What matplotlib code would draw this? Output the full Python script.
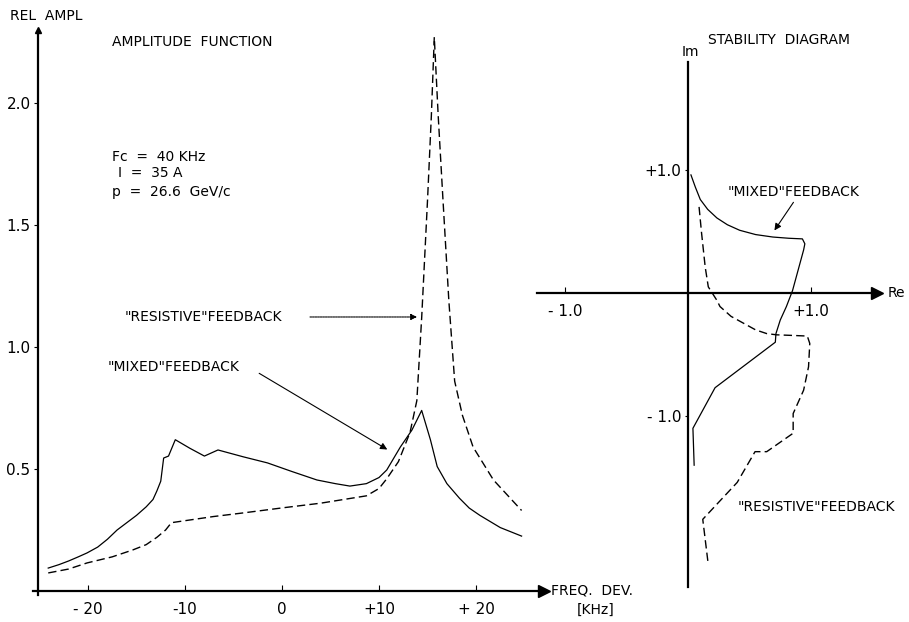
import matplotlib.pyplot as plt

# amplitude function, frequency deviation in kHz
f_mixed = [-24.1, -23.0, -22.0, -21.0, -20.1, -19.0, -18.0, -17.0, -16.0, -15.0, -14.0, -13.3,
           -12.9, -12.5, -12.2, -11.7, -11.0, -9.5, -8.0, -6.6, -4.0, -1.5, 1.0, 3.6, 5.5, 7.0,
           8.7, 10.0, 10.8, 12.2, 13.4, 14.4, 15.3, 16.0, 17.0, 18.3, 19.3, 20.4, 22.5, 24.7]
a_mixed = [0.094, 0.108, 0.123, 0.14, 0.156, 0.18, 0.212, 0.25, 0.28, 0.31, 0.345, 0.375,
           0.41, 0.45, 0.545, 0.553, 0.62, 0.585, 0.553, 0.578, 0.55, 0.525, 0.49, 0.455, 0.44,
           0.43, 0.44, 0.465, 0.496, 0.59, 0.66, 0.74, 0.62, 0.51, 0.44, 0.38, 0.34, 0.31, 0.26,
           0.225]

f_resist = [-24.1, -22.0, -20.1, -17.5, -15.4, -14.0, -12.9, -12.0, -11.4, -7.1, -4.0, 0.1,
            4.0, 8.7, 10.0, 10.8, 12.0, 13.2, 13.9, 14.4, 15.0, 15.4, 15.7, 16.1, 16.6, 17.2,
            17.8, 18.6, 19.7, 21.8, 24.7]
a_resist = [0.074, 0.09, 0.115, 0.14, 0.168, 0.19, 0.22, 0.25, 0.28, 0.305, 0.32, 0.341,
            0.36, 0.39, 0.42, 0.46, 0.53, 0.65, 0.78, 1.12, 1.60, 1.95, 2.27, 1.95, 1.60, 1.19,
            0.86, 0.72, 0.59, 0.455, 0.33]

# stability diagram (Re, Im)
re_mixed = [0.024, 0.06, 0.10, 0.16, 0.235, 0.32, 0.42, 0.55, 0.69, 0.82, 0.93, 0.95, 0.94,
            0.91, 0.85, 0.80, 0.75, 0.715, 0.71, 0.22, 0.04, 0.05]
im_mixed = [0.96, 0.86, 0.76, 0.68, 0.61, 0.555, 0.51, 0.475, 0.455, 0.445, 0.44, 0.40, 0.35,
            0.24, 0.02, -0.11, -0.22, -0.33, -0.40, -0.77, -1.10, -1.40]

re_resist = [0.09, 0.11, 0.14, 0.165, 0.235, 0.26, 0.35, 0.45, 0.55, 0.64, 0.72, 0.85, 0.97,
             0.99, 0.98, 0.94, 0.855, 0.855, 0.64, 0.545, 0.40, 0.12, 0.165]
im_resist = [0.70, 0.49, 0.21, 0.05, -0.06, -0.11, -0.19, -0.245, -0.30, -0.33, -0.34, -0.345,
             -0.35, -0.41, -0.60, -0.79, -0.98, -1.14, -1.29, -1.29, -1.54, -1.84, -2.21]

amp_ticks = [0.5, 1.0, 1.5, 2.0]
amp_labels = ['0.5', '1.0', '1.5', '2.0']
freq_ticks = [-20, -10, 0, 10, 20]
freq_labels = ['- 20', '-10', '0', '+10', '+ 20']

plt.rcParams['font.family'] = 'DejaVu Sans'
fig = plt.figure(figsize=(9.09, 6.22), dpi=100)

DASH = (0, (6, 3))

# ---- left panel: amplitude function
ax1 = fig.add_axes([0, 0, 660 / 909, 1])
ax1.set_facecolor('none')
ax1.set_xlim((0 - 282) / 9.7, (660 - 282) / 9.7)
ax1.set_ylim((591 - 622) / 244, 591 / 244)
for s in ['top', 'right']:
    ax1.spines[s].set_visible(False)
ax1.spines['left'].set_position(('data', -25.2))
ax1.spines['bottom'].set_position(('data', 0))
ax1.spines['left'].set_bounds(-0.015, 2.28)
ax1.spines['bottom'].set_bounds(-25.7, 27.0)
ax1.spines['left'].set_linewidth(1.6)
ax1.spines['bottom'].set_linewidth(1.6)
ax1.set_xticks(freq_ticks, labels=freq_labels)
ax1.set_yticks(amp_ticks, labels=amp_labels)
ax1.tick_params(axis='x', direction='in', length=4, pad=8, labelsize=11)
ax1.tick_params(axis='y', direction='out', length=3, pad=2, labelsize=11)
ax1.plot(27.0, 0, marker='>', color='k', ms=8, clip_on=False)
ax1.plot(-25.2, 2.3, marker='^', color='k', ms=5, clip_on=False)

ax1.plot(f_mixed, a_mixed, color='k', lw=0.9)
ax1.plot(f_resist, a_resist, color='k', lw=1.0, linestyle=DASH)

ax1.text(-28.0, 2.357, 'REL  AMPL', fontsize=10, va='center')
ax1.text(-17.5, 2.25, 'AMPLITUDE  FUNCTION', fontsize=10, va='center')
ax1.text(-17.5, 1.78, 'Fc  =  40 KHz', fontsize=10, va='center')
ax1.text(-16.9, 1.713, 'I  =  35 A', fontsize=10, va='center')
ax1.text(-17.5, 1.635, 'p  =  26.6  GeV/c', fontsize=10, va='center')
ax1.annotate('', xy=(14.2, 1.123), xytext=(2.6, 1.123),
             arrowprops=dict(arrowstyle='-|>', lw=0.8, linestyle=(0, (1.5, 0.8)), color='k',
                             mutation_scale=9))
ax1.text(-16.2, 1.123, '"RESISTIVE"FEEDBACK', fontsize=10, va='center')
ax1.text(-18.0, 0.918, '"MIXED"FEEDBACK', fontsize=10, va='center')
ax1.annotate('', xy=(11.1, 0.574), xytext=(-2.6, 0.898),
             arrowprops=dict(arrowstyle='-|>', lw=0.8, color='k', mutation_scale=10))
ax1.text(27.7, 0, 'FREQ.  DEV.', fontsize=10, va='center')
ax1.text(32.3, -0.078, '[KHz]', fontsize=10, va='center', ha='center')

# ---- right panel: stability diagram
ax2 = fig.add_axes([520 / 909, 0, 389 / 909, 1])
ax2.set_facecolor('none')
ax2.set_xlim((520 - 688) / 123, (909 - 688) / 123)
ax2.set_ylim((293 - 622) / 123, 293 / 123)
for s in ['top', 'right']:
    ax2.spines[s].set_visible(False)
ax2.spines['left'].set_position(('data', 0))
ax2.spines['bottom'].set_position(('data', 0))
ax2.spines['left'].set_bounds(-2.39, 1.88)
ax2.spines['bottom'].set_bounds(-1.23, 1.52)
ax2.spines['left'].set_linewidth(1.6)
ax2.spines['bottom'].set_linewidth(1.6)
ax2.set_xticks([-1, 1], labels=['- 1.0', '+1.0'])
ax2.set_yticks([-1, 1], labels=['- 1.0', '+1.0'])
ax2.tick_params(axis='x', direction='in', length=4, pad=8, labelsize=11)
ax2.tick_params(axis='y', direction='out', length=2, pad=3, labelsize=11)
ax2.plot(1.54, 0, marker='>', color='k', ms=8, clip_on=False)

ax2.plot(re_mixed, im_mixed, color='k', lw=0.9)
ax2.plot(re_resist, im_resist, color='k', lw=1.0, linestyle=DASH)

ax2.text(0.163, 2.057, 'STABILITY  DIAGRAM', fontsize=10, va='center')
ax2.text(0.016, 1.96, 'Im', fontsize=10, va='center', ha='center')
ax2.text(1.62, 0, 'Re', fontsize=10, va='center')
ax2.text(0.32, 0.82, '"MIXED"FEEDBACK', fontsize=10, va='center')
ax2.annotate('', xy=(0.69, 0.49), xytext=(0.87, 0.756),
             arrowprops=dict(arrowstyle='-|>', lw=0.8, color='k', mutation_scale=10))
ax2.text(0.40, -1.74, '"RESISTIVE"FEEDBACK', fontsize=10, va='center')

fig.savefig('out.png', dpi=100)
